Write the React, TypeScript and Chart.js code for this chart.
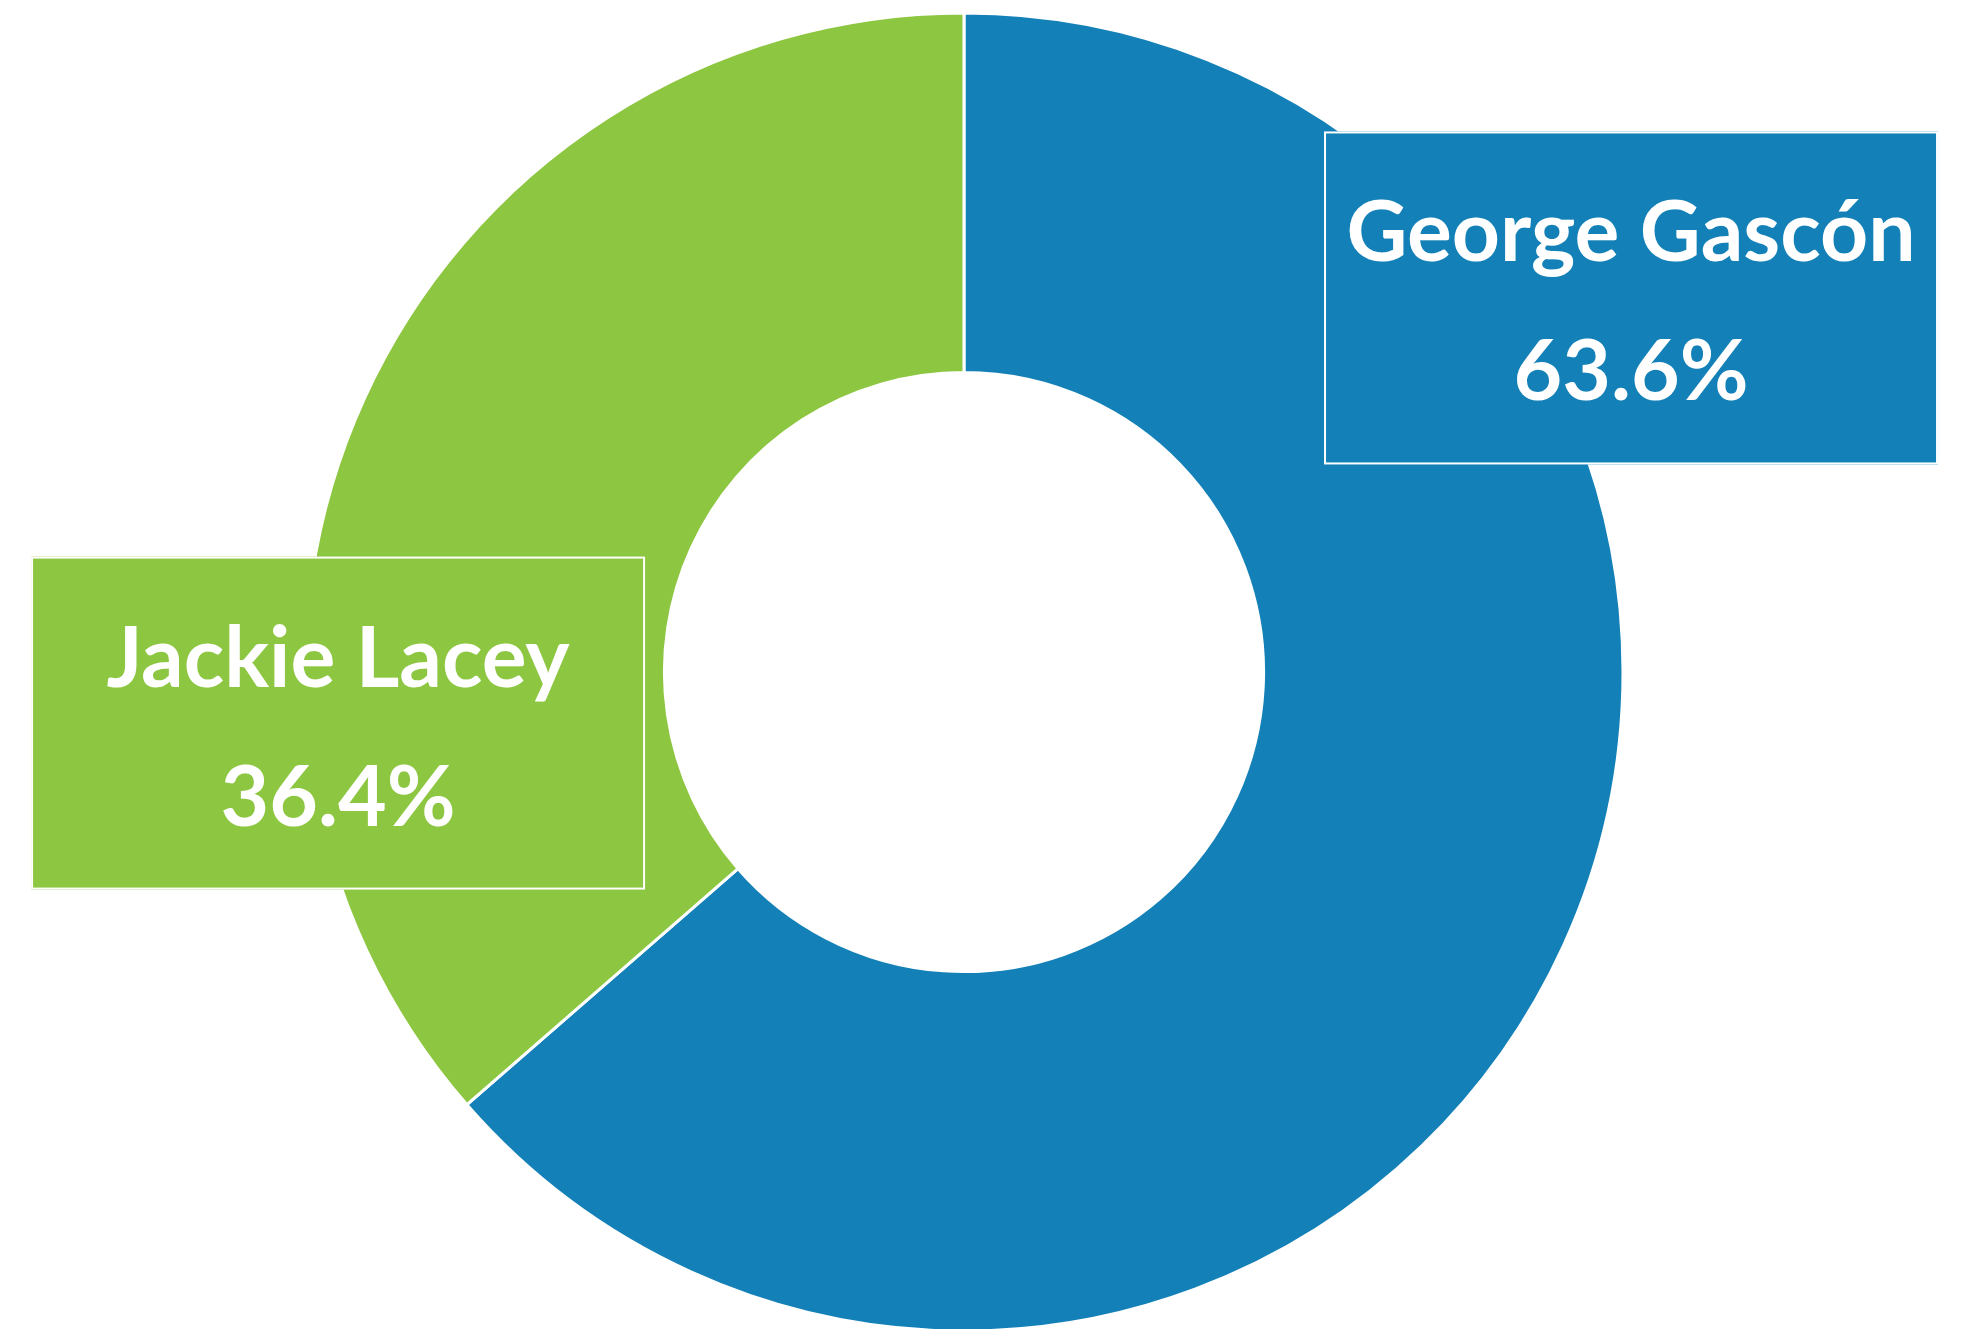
import React, { useEffect, useRef } from "react";
import { Chart, registerables } from "chart.js";

Chart.register(...registerables);

const candidates = ["George Gascón", "Jackie Lacey"];
const shares = [63.6, 36.4];
const shareLabels = ["63.6%", "36.4%"];
const sliceColors = ["#1380B7", "#8DC640"];

// label box placement relative to chart centre, in units of outer radius
const boxOffsets = [
  { dx: 1.0122, dy: -0.5676 },
  { dx: -0.9498, dy: 0.0775 },
];
const BOX_W = 614;
const BOX_H = 333;

const labelBoxes = {
  id: "labelBoxes",
  afterDatasetsDraw(chart: any) {
    const meta = chart.getDatasetMeta(0);
    if (!meta || !meta.data.length) return;
    const arc0 = meta.data[0];
    const cx = arc0.x;
    const cy = arc0.y;
    const R = arc0.outerRadius;
    const ctx = chart.ctx;
    ctx.save();
    meta.data.forEach((_: any, i: number) => {
      const bx = cx + boxOffsets[i].dx * R - BOX_W / 2;
      const by = cy + boxOffsets[i].dy * R - BOX_H / 2;
      ctx.fillStyle = sliceColors[i];
      ctx.fillRect(bx, by, BOX_W, BOX_H);
      ctx.strokeStyle = "#ffffff";
      ctx.lineWidth = 2;
      ctx.strokeRect(bx + 1, by + 1, BOX_W - 2, BOX_H - 2);
      ctx.fillStyle = "#ffffff";
      ctx.textAlign = "center";
      ctx.textBaseline = "alphabetic";
      ctx.font = "bold 84px Lato";
      ctx.fillText(candidates[i], bx + BOX_W / 2, by + 130);
      ctx.fillText(shareLabels[i], bx + BOX_W / 2, by + 269);
    });
    ctx.restore();
  },
};

export default function App() {
  const ref = useRef<HTMLCanvasElement | null>(null);
  useEffect(() => {
    if (!ref.current) return;
    let chart: Chart | null = null;
    let cancelled = false;
    const make = () => {
      if (cancelled || !ref.current) return;
      chart = new Chart(ref.current, {
        type: "doughnut",
        data: {
          labels: candidates,
          datasets: [
            {
              data: shares,
              backgroundColor: sliceColors,
              borderColor: "#ffffff",
              borderWidth: 3,
              clip: false,
            } as any,
          ],
        },
        options: {
          responsive: false,
          animation: false,
          radius: 659,
          cutout: 298,
          layout: { padding: { left: 0, right: 37, top: 15, bottom: 0 } },
          plugins: {
            legend: { display: false },
            tooltip: { enabled: false },
          },
        } as any,
        plugins: [labelBoxes],
      });
    };
    const fonts: any = (document as any).fonts;
    if (fonts && fonts.load) {
      fonts.load("bold 84px Lato").then(make, make);
    } else {
      make();
    }
    return () => {
      cancelled = true;
      if (chart) chart.destroy();
    };
  }, []);
  return (
    <div style={{ position: "fixed", left: 0, top: 0, width: 1965, height: 1329, background: "#ffffff" }}>
      <canvas ref={ref} width={1965} height={1329} style={{ display: "block", width: 1965, height: 1329 }} />
    </div>
  );
}
